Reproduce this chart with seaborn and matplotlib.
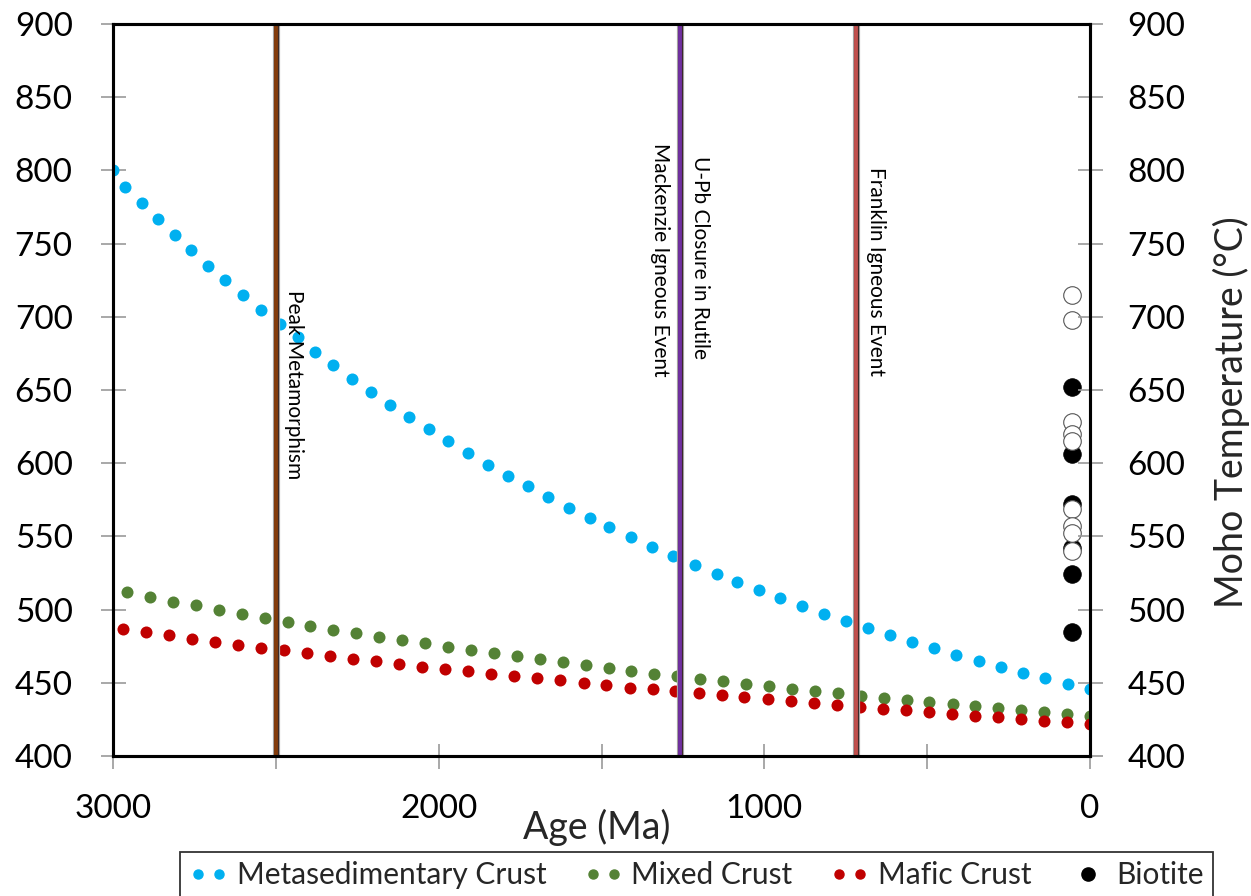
import matplotlib
matplotlib.use("Agg")
import matplotlib.pyplot as plt
import seaborn as sns
from matplotlib.lines import Line2D
from matplotlib.legend_handler import HandlerLine2D

sns.set_style("ticks")
plt.rcParams["font.family"] = ["Lato", "DejaVu Sans"]

# Moho temperature model curves (age in Ma, temperature in °C)
meta_age = [3000, 2963, 2912, 2862, 2810, 2759, 2707, 2655, 2600, 2546,
            2487, 2431, 2380, 2323, 2267, 2209, 2149, 2090, 2030, 1971,
            1911, 1849, 1788, 1726, 1663, 1600, 1536, 1477, 1409, 1345,
            1281, 1214, 1146, 1084, 1017, 951, 884, 817, 750, 681,
            614, 547, 479, 411, 342, 274, 206, 137, 68, 0]
meta_temp = [800.0, 788.9, 777.5, 766.8, 755.9, 745.6, 734.9, 724.9, 714.9, 704.6,
             694.8, 686.0, 676.0, 666.9, 657.7, 648.8, 640.0, 631.3, 623.2, 614.9,
             607.0, 599.0, 591.5, 584.2, 576.7, 569.6, 562.8, 556.1, 549.4, 543.0,
             536.6, 530.5, 524.5, 518.9, 513.2, 507.7, 502.5, 497.2, 492.2, 487.4,
             482.6, 477.9, 473.6, 469.2, 464.9, 460.8, 456.9, 453.1, 449.4, 445.8]

mixed_age = [2957, 2886, 2816, 2746, 2675, 2605, 2534, 2464, 2394, 2323,
             2253, 2182, 2112, 2042, 1971, 1901, 1830, 1760, 1690, 1619,
             1549, 1478, 1408, 1338, 1267, 1197, 1126, 1056, 986, 915,
             845, 774, 704, 634, 563, 493, 422, 352, 282, 211,
             141, 70, 0]
mixed_temp = [512.2, 508.6, 505.4, 502.9, 499.9, 497.2, 494.5, 491.6, 489.0, 486.3,
              484.0, 481.5, 479.2, 477.0, 474.7, 472.4, 470.2, 468.1, 466.1, 464.0,
              462.0, 459.9, 458.1, 456.2, 454.4, 452.6, 451.0, 449.4, 447.8, 446.0,
              444.4, 442.8, 441.2, 439.6, 438.3, 436.9, 435.3, 434.0, 432.6, 431.2,
              429.8, 428.7, 427.3]

mafic_age = [2969, 2899, 2828, 2757, 2687, 2616, 2545, 2475, 2404, 2333,
             2262, 2192, 2121, 2050, 1980, 1909, 1838, 1768, 1697, 1626,
             1555, 1485, 1414, 1343, 1273, 1202, 1131, 1061, 990, 919,
             848, 778, 707, 636, 566, 495, 424, 354, 283, 212,
             141, 71, 0]
mafic_temp = [486.7, 484.5, 482.4, 480.1, 478.1, 476.0, 474.0, 472.2, 470.2, 468.3,
              466.5, 464.7, 462.8, 461.0, 459.4, 457.9, 456.2, 454.6, 453.1, 451.7,
              450.1, 448.5, 446.7, 445.6, 444.4, 442.8, 441.4, 440.1, 438.7, 437.6,
              436.2, 434.8, 433.5, 432.3, 431.2, 429.8, 428.7, 427.5, 426.4, 425.3,
              424.1, 423.0, 421.9]

# Biotite estimates (filled) and other thermometry estimates (open)
biotite_age = [55, 55, 55, 55, 55, 55]
biotite_temp = [652, 606, 572, 542, 524, 485]
open_age = [55, 55, 55, 55, 55, 55, 55, 55, 55]
open_temp = [715, 698, 628, 620, 615, 569, 557, 552, 540]

# Geological events
event_age = [2500, 1260, 720]
event_color = ["#843C0C", "#7030A0", "#C0504D"]
label_text = ["Peak Metamorphism", "Mackenzie Igneous Event",
              "U-Pb Closure in Rutile", "Franklin Igneous Event"]
label_age = [2475, 1350, 1228, 688]
label_top = [718, 819, 810, 802]

series_names = ["Metasedimentary Crust", "Mixed Crust", "Mafic Crust", "Biotite"]
series_colors = ["#00B0F0", "#548235", "#C00000", "#000000"]

fig = plt.figure(figsize=(12.51, 8.96), dpi=100)
ax = fig.add_axes([113 / 1251, 1 - 756 / 896, 977 / 1251, 732 / 896])

dot = 75
sns.scatterplot(x=meta_age, y=meta_temp, ax=ax, color=series_colors[0], s=dot,
                linewidth=0, legend=False, zorder=3)
sns.scatterplot(x=mixed_age, y=mixed_temp, ax=ax, color=series_colors[1], s=dot,
                linewidth=0, legend=False, zorder=3)
sns.scatterplot(x=mafic_age, y=mafic_temp, ax=ax, color=series_colors[2], s=dot,
                linewidth=0, legend=False, zorder=3)
sns.scatterplot(x=biotite_age, y=biotite_temp, ax=ax, color="black", s=160,
                linewidth=0.6, edgecolor="black", legend=False, zorder=4)
sns.scatterplot(x=open_age, y=open_temp, ax=ax, color="white", s=160,
                linewidth=0.8, edgecolor="#555555", legend=False, zorder=5)

for age, col in zip(event_age, event_color):
    ax.axvline(age, color="#BFBFBF", lw=5.2, zorder=6)
    ax.axvline(age, color="#3A2A2A", lw=3.9, zorder=7)
    ax.axvline(age, color=col, lw=2.8, zorder=8)

for txt, a, t in zip(label_text, label_age, label_top):
    ax.text(a, t, txt, rotation=270, ha="left", va="top", fontsize=15,
            color="black", zorder=9)

ax.set_xlim(3000, 0)
ax.set_ylim(400, 900)
ax.set_xticks([3000, 2000, 1000, 0])
ax.set_xticklabels(["3000", "2000", "1000", "0"])
ax.set_xticks([2500, 1500, 500], minor=True)
ax.set_yticks([400, 450, 500, 550, 600, 650, 700, 750, 800, 850, 900])

tick_col = "#9A9A9A"
ax.tick_params(axis="y", which="major", direction="inout", length=18, width=1.2,
               color=tick_col, labelsize=24, pad=20, labelcolor="black")
ax.tick_params(axis="x", which="both", direction="inout", length=18, width=1.2,
               color=tick_col, labelsize=24, pad=18, labelcolor="black")

for sp in ax.spines.values():
    sp.set_visible(True)
    sp.set_color("black")
    sp.set_linewidth(2.2)
    sp.set_zorder(10)

ax2 = ax.twinx()
ax2.set_ylim(400, 900)
ax2.set_yticks([400, 450, 500, 550, 600, 650, 700, 750, 800, 850, 900])
ax2.tick_params(axis="y", direction="inout", length=18, width=1.2,
                color=tick_col, labelsize=24, pad=18, labelcolor="black")
for sp in ax2.spines.values():
    sp.set_color("black")
    sp.set_linewidth(2.2)

ax.set_xlabel("Age (Ma)", fontsize=27)
ax.xaxis.set_label_coords(0.495, -0.072)
ax2.set_ylabel("Moho Temperature (°C)", fontsize=27)
ax2.yaxis.set_label_coords(1.126, 0.47)

handles = [Line2D([], [], ls="none", marker="o", color=c, markersize=6.5)
           for c in series_colors[:3]]
bio_handle = Line2D([], [], ls="none", marker="o", color="black", markersize=9.5)
handles.append(bio_handle)
leg = fig.legend(handles, series_names, loc="upper left",
                 bbox_to_anchor=(180 / 1251, 1 - 852 / 896), ncol=4,
                 fontsize=21.5, numpoints=2, handlelength=1.3, handletextpad=0.3,
                 columnspacing=1.25, borderaxespad=0, borderpad=0.3,
                 frameon=True, fancybox=False,
                 handler_map={bio_handle: HandlerLine2D(numpoints=1)})
leg.get_frame().set_edgecolor("black")
leg.get_frame().set_linewidth(1.3)

fig.savefig("out.png", dpi=100)
